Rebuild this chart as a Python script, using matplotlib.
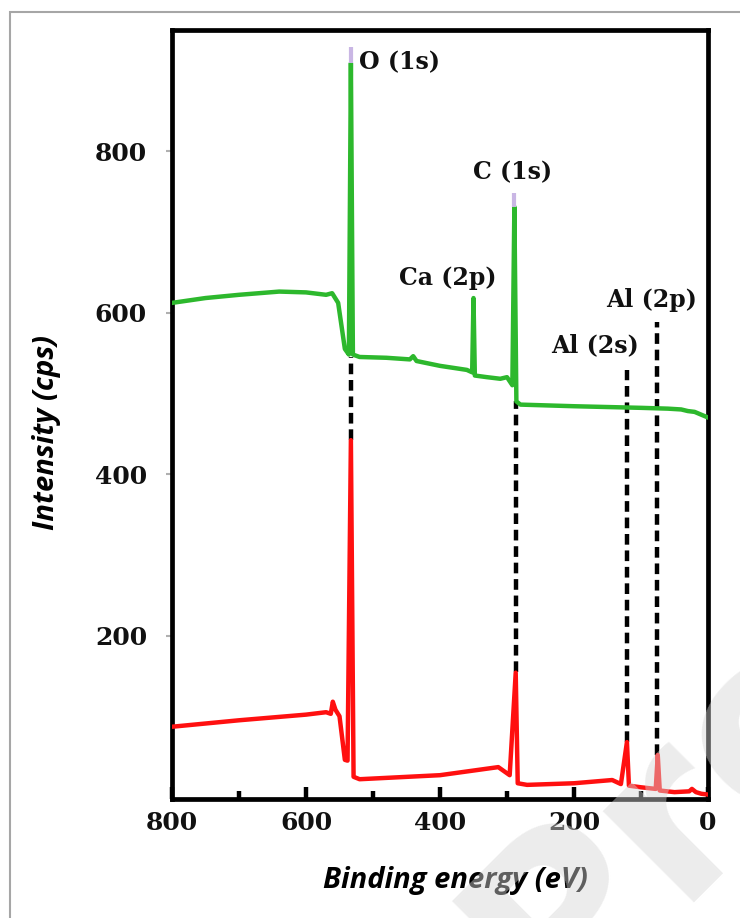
import numpy as np
import matplotlib.pyplot as plt
from matplotlib.patches import Rectangle

# --- survey spectrum (binding energy eV, intensity cps) ---
green_ev = [800, 750, 700, 640, 600, 570, 561, 552, 542, 536, 533, 530, 520, 480,
            445, 440, 435, 400, 360, 352, 350, 348, 330, 310, 300, 292, 289, 286,
            280, 200, 150, 100, 60, 40, 30, 20, 0]
green_cps = [612, 618, 622, 626, 625, 622, 624, 612, 555, 548, 909, 548, 545, 544,
             542, 546, 540, 534, 529, 526, 618, 522, 520, 518, 520, 510, 731, 490,
             486, 484, 483, 482, 481, 480, 478, 477, 470]

red_ev = [800, 700, 600, 570, 563, 560, 556, 550, 542, 538, 533, 529, 520, 400,
          313, 296, 287, 284, 270, 200, 143, 130, 121, 118, 100, 78, 75, 72, 50,
          28, 24, 18, 10, 0]
red_cps = [87, 95, 102, 105, 103, 118, 108, 100, 46, 45, 442, 25, 22, 27,
           37, 27, 154, 17, 15, 17, 21, 16, 68, 14, 12, 10, 52, 8, 6,
           7, 10, 6, 4, 3]

# peak tips (pale overshoot above the green peaks)
tip_ev = [533, 289]
tip_low = [909, 731]
tip_high = [929, 748]

# dashed guide lines between the two spectra
dash_ev = [533, 287, 121, 76]
dash_top = [545, 490, 529, 588]
dash_bottom = [442, 155, 68, 52]

labels = ["O (1s)", "C (1s)", "Ca (2p)", "Al (2s)", "Al (2p)"]
label_ev = [521, 291, 388, 169, 84]
label_cps = [910, 774, 643, 560, 615]
label_ha = ["left", "center", "center", "center", "center"]

serif = "DejaVu Serif"

fig = plt.figure(figsize=(7.4, 9.18), dpi=100)
ax = fig.add_axes([172 / 740, 1 - 799 / 918, 536 / 740, 769 / 918])

# light frame around the figure
fig.patches.append(Rectangle((10 / 740, -0.1), 1.2, 1 - 12 / 918 + 0.1,
                             transform=fig.transFigure, fill=False,
                             edgecolor="#a6a6a6", linewidth=1.5))

ax.vlines(dash_ev, dash_bottom, dash_top, colors="black", linewidth=3.2,
          linestyles=(0, (2.4, 1.3)), zorder=2)
ax.plot(green_ev, green_cps, color="#2db82d", linewidth=3.2, zorder=3,
        solid_joinstyle="round")
ax.plot(red_ev, red_cps, color="#ff1010", linewidth=3.2, zorder=3,
        solid_joinstyle="round")
ax.vlines(tip_ev, tip_low, tip_high, colors="#c9b6e4", linewidth=3, zorder=3)

for txt, x, y, ha in zip(labels, label_ev, label_cps, label_ha):
    ax.text(x, y, txt, ha=ha, va="center", fontsize=17, fontweight="bold",
            family=serif, color="#111111")

ax.set_xlim(800, 0)
ax.set_ylim(-2.5, 950)

ax.set_xticks([800, 600, 400, 200, 0])
ax.set_xticks([700, 500, 300, 100], minor=True)
ax.set_yticks([200, 400, 600, 800])
ax.tick_params(axis="x", which="major", direction="in", length=9, width=3.2,
               pad=9, labelsize=18)
ax.tick_params(axis="x", which="minor", direction="in", length=6, width=3.2)
ax.tick_params(axis="y", which="major", direction="out", length=4, width=1.5,
               color="#b0b0b0", pad=14, labelsize=18)
for lab in ax.get_xticklabels() + ax.get_yticklabels():
    lab.set_family(serif)
    lab.set_fontweight("bold")
    lab.set_color("#111111")

for sp in ax.spines.values():
    sp.set_linewidth(3.4)
    sp.set_color("black")

ax.set_xlabel("Binding energy (eV)", family="Open Sans", fontsize=21,
              fontweight="bold", style="italic")
ax.set_ylabel("Intensity (cps)", family="Open Sans", fontsize=21,
              fontweight="bold", style="italic")
ax.xaxis.set_label_coords(0.528, -0.087)
ax.yaxis.set_label_coords(-0.208, 0.476)

# faint watermark in the lower right corner
fig.text(0.90, 0.11, "Pro", fontsize=170, color="#d6d6d6", alpha=0.45,
         rotation=45, ha="center", va="center", family="DejaVu Sans",
         fontweight="bold", zorder=10)

fig.savefig("out.png", dpi=100)
